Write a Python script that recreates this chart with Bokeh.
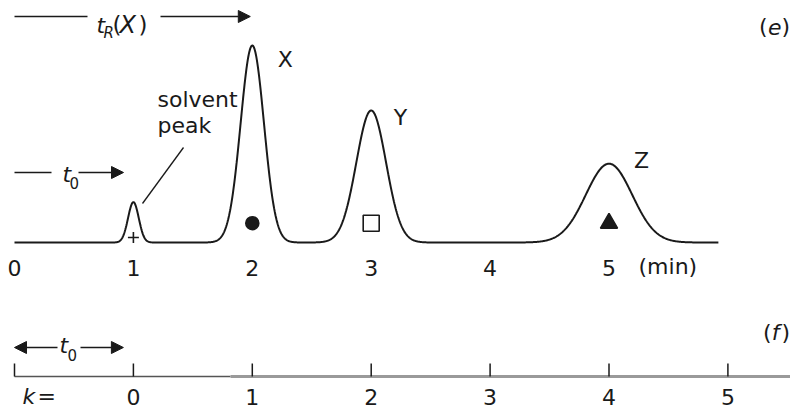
import numpy as np
from bokeh.plotting import figure
from bokeh.models import Range1d, Arrow, NormalHead, ColumnDataSource
from bokeh.core.properties import value
from bokeh.embed import file_html
from bokeh.resources import INLINE

# ---------------- data ----------------
time_ticks = [0, 1, 2, 3, 4, 5]          # minutes
time_unit = "(min)"
peak_names = ["solvent", "X", "Y", "Z"]
peak_times = [1.0, 2.0, 3.0, 5.0]        # retention times (min)
peak_heights = [0.205, 1.0, 0.67, 0.40]  # relative signal
peak_sigmas = [0.045, 0.098, 0.125, 0.195]
peak_markers = ["cross", "circle", "square", "triangle"]
t0 = 1.0                                  # dead time (min)
run_end = 5.92                            # end of recorded trace (min)
k_ticks = [0, 1, 2, 3, 4, 5]              # retention factor scale

# ---------------- layout helpers (picture px -> data) ----------------
FONT = "DejaVu Sans"
INK = "#1a1a1a"
W, H = 790, 410
X0_PAGE, PX_MIN = 14.0, 118.9
Y0_PAGE, PX_UNIT = 242.0, 197.0
BASE_FIX = 0.36  # em shift so that the alphabetic baseline lands where wanted


def tx(xp):
    return (xp - X0_PAGE) / PX_MIN


def ty(yp):
    return (Y0_PAGE - yp) / PX_UNIT


p = figure(width=W, height=H, x_range=Range1d(tx(0), tx(W)),
           y_range=Range1d(ty(H), ty(0)), x_axis_type=None,
           y_axis_type=None, toolbar_location=None, output_backend="svg",
           min_border=0, outline_line_color=None)
p.background_fill_color = "white"
p.border_fill_color = "white"


def put(txt, xp, yp, size=22, style="normal", align="left"):
    p.text(x=[tx(xp)], y=[ty(yp - BASE_FIX * size)], text=[txt],
           text_font=value(FONT), text_font_size=f"{size}px",
           text_font_style=style, text_align=align,
           text_baseline="alphabetic", text_color=INK)


def head():
    return NormalHead(size=12, fill_color=INK, line_color=INK, line_width=1)


# ---------------- chromatogram ----------------
t = np.linspace(0.0, run_end, 1500)
sig = np.zeros_like(t)
for tr, h, s in zip(peak_times, peak_heights, peak_sigmas):
    sig += h * np.exp(-0.5 * ((t - tr) / s) ** 2)
p.line(t, sig, line_color=INK, line_width=2)

# peak markers
mk_y = [ty(237) if m == "cross" else ty(222.7) for m in peak_markers]
mk_size = {"cross": 11, "circle": 13, "square": 16, "triangle": 17}
mk_fill = {"cross": INK, "circle": INK, "square": "white", "triangle": INK}
src = ColumnDataSource(dict(
    x=peak_times, y=mk_y, marker=peak_markers,
    size=[mk_size[m] for m in peak_markers],
    fill=[mk_fill[m] for m in peak_markers]))
p.scatter(x="x", y="y", marker="marker", size="size", fill_color="fill",
          line_color=INK, line_width=1.6, source=src)

# peak labels X, Y, Z (offset from the peak tops)
lab_dx = [33.0, 29.3, 32.5]
lab_dy = [21.5, 14.5, 4.5]
p.text(x=[tr + dx / PX_MIN for tr, dx in zip(peak_times[1:], lab_dx)],
       y=[h - (dy - BASE_FIX * 22) / PX_UNIT
          for h, dy in zip(peak_heights[1:], lab_dy)],
       text=peak_names[1:], text_font=value(FONT), text_font_size="22px",
       text_align="center", text_baseline="alphabetic", text_color=INK)

# solvent peak annotation
put(peak_names[0], 157, 107)
put("peak", 157, 133)
p.line([tx(183), tx(142)], [ty(147), ty(203)], line_color=INK, line_width=1.3)

# time axis labels
p.text(x=time_ticks, y=[ty(275 - BASE_FIX * 22)] * len(time_ticks),
       text=[str(v) for v in time_ticks], text_font=value(FONT),
       text_font_size="22px", text_align="center",
       text_baseline="alphabetic", text_color=INK)
put(time_unit, 638, 274)

# t_R(X) arrow
yA = ty(16)
p.line([0, tx(87)], [yA, yA], line_color=INK, line_width=1.5)
p.add_layout(Arrow(end=head(), x_start=tx(160), y_start=yA,
                   x_end=peak_times[1] - 2 / PX_MIN, y_end=yA,
                   line_color=INK, line_width=1.5))
put("t", 96, 33, style="italic")
put("R", 103, 38, size=15, style="italic")
put("(", 112, 33, size=23)
put("X", 119, 33, size=24, style="italic")
put(")", 138, 33, size=23)

# t0 arrow (top)
yB = ty(172)
p.line([0, tx(51)], [yB, yB], line_color=INK, line_width=1.5)
p.add_layout(Arrow(end=head(), x_start=tx(78), y_start=yB, x_end=tx(123),
                   y_end=yB, line_color=INK, line_width=1.5))
put("t", 62, 182, style="italic")
put("0", 69, 188, size=15)

# panel tags
put(")", 789.5, 34, align="right")
put("e", 781, 34, style="italic", align="right")
put("(", 767, 34, align="right")
put(")", 789.5, 340, align="right")
put("f", 779, 340, style="italic", align="right")
put("(", 771, 340, align="right")

# ---------------- k scale ----------------
yAx = ty(376)
k_pos = [t0 * (1 + k) for k in k_ticks]
p.line([0, tx(230)], [yAx, yAx], line_color="#555555", line_width=1.6)
p.line([tx(230), tx(800)], [yAx, yAx], line_color="#9a9a9a", line_width=3)
tick_x = [0.0] + k_pos
p.segment(x0=tick_x, y0=[yAx] * len(tick_x), x1=tick_x,
          y1=[ty(363)] * len(tick_x), line_color=INK, line_width=1.5)
p.text(x=k_pos, y=[ty(404 - BASE_FIX * 22)] * len(k_pos),
       text=[str(k) for k in k_ticks],
       text_font=value(FONT), text_font_size="22px", text_align="center",
       text_baseline="alphabetic", text_color=INK)
put("k", 22, 404, style="italic")
put("=", 37, 404)

# double arrow t0 (bottom)
yC = ty(347)
p.add_layout(Arrow(end=head(), x_start=tx(57), y_start=yC, x_end=0.0,
                   y_end=yC, line_color=INK, line_width=1.5))
p.add_layout(Arrow(end=head(), x_start=tx(80), y_start=yC, x_end=t0 - 10 / PX_MIN,
                   y_end=yC, line_color=INK, line_width=1.5))
put("t", 59, 353, style="italic")
put("0", 67, 360, size=15)

open("out.html", "w").write(file_html(p, INLINE))
